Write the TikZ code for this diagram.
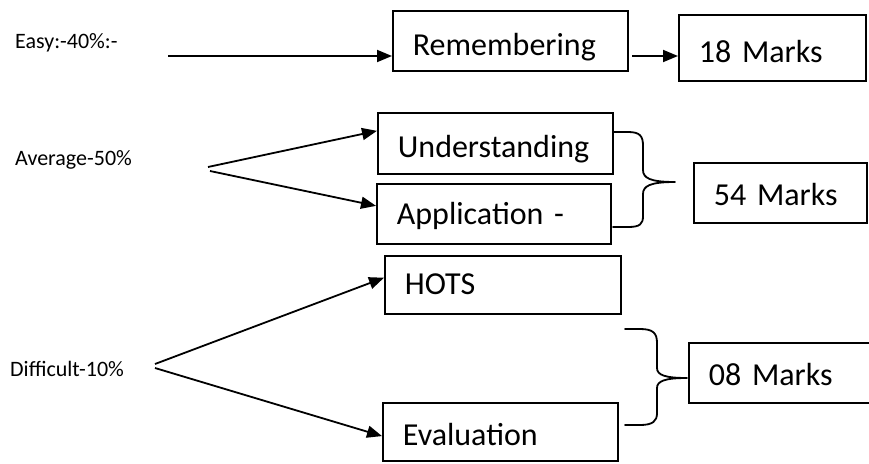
\documentclass[tikz,border=0pt]{standalone}
\usepackage{fontspec}
\setmainfont{Carlito}
\usetikzlibrary{arrows.meta,calc}
\tikzset{
  bx/.style={draw, line width=1.8pt, anchor=north west, inner xsep=20pt, inner ysep=0pt,
    align=left, text height=23pt, text depth=0pt, font=\fontsize{32}{38}\selectfont},
  lbl/.style={anchor=base west, inner sep=0pt, font=\fontsize{22}{26}\selectfont},
  arr/.style={line width=1.8pt, -{Triangle[length=15pt,width=12pt]}},
  brc/.style={line width=1.8pt, line cap=round, line join=round},
}
\begin{document}
\begin{tikzpicture}[x=1pt,y=-1pt]
\useasboundingbox (0,0) rectangle (869,463);
\clip (0,0) rectangle (869,463);
\fill[white] (0,0) rectangle (869,463);
% labels
\node[lbl] (easy) at (15,48) {Easy:-40\%:-};
\node[lbl] (avg) at (15,165) {Average-50\%};
\node[lbl] (diff) at (10,376) {Difficult-10\%};
% boxes
\node[bx, text width=195pt, minimum height=60pt, text height=29pt] (rem) at (392,10) {Remembering};
\node[bx, text width=147pt, minimum height=66pt, text height=30pt] (m18) at (678,14) {18 Marks};
\node[bx, text width=195pt, minimum height=61pt, text height=28pt] (und) at (377,112) {Understanding};
\node[bx, text width=194pt, minimum height=60pt, text height=21pt] (app) at (376,183) {Application -};
\node[bx, text width=133pt, minimum height=60pt, text height=25pt] (m54) at (693,162) {54 Marks};
\node[bx, text width=196pt, minimum height=58pt, text height=20pt] (hots) at (384,255) {HOTS};
\node[bx, text width=195pt, minimum height=58pt, text height=28pt] (eval) at (382,402) {Evaluation};
\node[bx, text width=160pt, minimum height=60pt, text height=25pt] (m08) at (688,342) {08 Marks};
% arrows
\coordinate (e1) at (168,56);
\draw[arr] (e1) -- (e1 -| rem.west);
\coordinate (r1) at (632,56);
\draw[arr] (r1) -- (r1 -| m18.west);
\coordinate (a1) at (208,167);
\coordinate (a2) at (210,171);
\draw[arr] (a1) -- ($(und.north west)!0.3!(und.south west)$);
\draw[arr] (a2) -- ($(app.north west)!0.37!(app.south west)$);
\coordinate (d1) at (155,364);
\coordinate (d2) at (155,368);
\draw[arr] (d1) -- ($(hots.north west)!0.38!(hots.south west)$);
\draw[arr] (d2) -- ($(eval.north west)!0.57!(eval.south west)$);
% braces
\draw[brc] (613,132) -- (628,132) .. controls (640,132) and (643,136) .. (643,146)
  -- (643,170) .. controls (643,178) and (650,182) .. (675,182)
  .. controls (650,182) and (643,186) .. (643,194)
  -- (643,216) .. controls (643,224) and (640,227) .. (628,227) -- (613,227);
\draw[brc] (625,329) -- (640,329) .. controls (653,329) and (657,333) .. (657,343)
  -- (657,368) .. controls (657,375) and (665,378) .. (687,378)
  .. controls (665,378) and (657,381) .. (657,388)
  -- (657,413) .. controls (657,421) and (653,425) .. (640,425) -- (625,425);
\end{tikzpicture}
\end{document}
